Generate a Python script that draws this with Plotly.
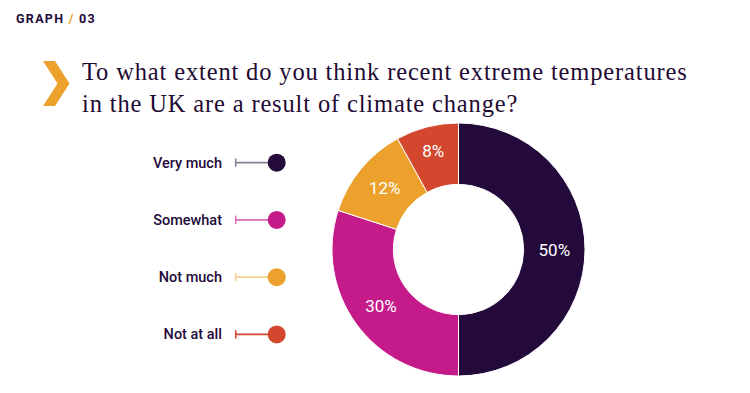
import plotly.graph_objects as go

categories = ["Very much", "Somewhat", "Not much", "Not at all"]
values = [50, 30, 12, 8]
colors = ["#230a3a", "#c51b8a", "#eba12b", "#d4472f"]
line_colors = ["#8a7d98", "#d86fb4", "#f5cf8c", "#d4472f"]

W, H = 750, 393
OFF = 8  # page body margin
DARK = "#230a3a"


def px(x):
    return (x - OFF) / W


def py(y):
    return 1 - (y - OFF) / H


fig = go.Figure()

# Donut
fig.add_trace(go.Pie(
    labels=categories, values=values, hole=0.515, sort=False,
    direction="clockwise", rotation=0,
    marker=dict(colors=colors, line=dict(color="white", width=1)),
    texttemplate="%{value}%", textposition="inside",
    insidetextorientation="horizontal",
    textfont=dict(family="Roboto", size=17, color="white", weight=400),
    domain=dict(x=[px(332), px(585)], y=[py(376), py(123)]),
    showlegend=False, hoverinfo="label+value",
))

# Legend-like lollipops
for cat, lc, c in zip(categories, line_colors, colors):
    fig.add_trace(go.Scatter(
        x=[0, 1], y=[cat, cat], mode="lines",
        line=dict(color=lc, width=1.6), showlegend=False, hoverinfo="skip",
    ))
    fig.add_trace(go.Scatter(
        x=[0], y=[cat], mode="markers",
        marker=dict(symbol="line-ns", size=6, line=dict(color=lc, width=1.6)),
        showlegend=False, hoverinfo="skip",
    ))
    fig.add_trace(go.Scatter(
        x=[1], y=[cat], mode="markers",
        marker=dict(size=18, color=c), showlegend=False, hoverinfo="skip",
    ))

x0px, x1px = 223, 300
ppu = 41.0
fig.update_layout(
    width=W, height=H, margin=dict(l=0, r=0, t=0, b=0),
    paper_bgcolor="white", plot_bgcolor="white",
    xaxis=dict(domain=[px(x0px), px(x1px)],
               range=[-(235.7 - x0px) / ppu, 1 + (x1px - 276.7) / ppu],
               visible=False, fixedrange=True),
    yaxis=dict(domain=[py(363), py(134)], type="category",
               categoryorder="array", categoryarray=categories,
               range=[3.5, -0.5], autorange=False,
               showgrid=False, zeroline=False,
               showline=False, ticks="",
               tickfont=dict(family="Roboto", size=14.5, color=DARK, weight=500),
               fixedrange=True),
    annotations=[
        dict(text="<span style='letter-spacing:1.3px'>GRAPH <span style='color:#eba12b'>/</span> 03</span>",
             x=px(14), y=py(19), xref="paper", yref="paper",
             xanchor="left", yanchor="middle", showarrow=False,
             font=dict(family="Roboto", size=12.5, color=DARK, weight=700)),
        dict(text="<span style='letter-spacing:0.85px'>To what extent do you think recent extreme temperatures<br>in the UK are a result of climate change?</span>",
             x=px(80), y=py(87.5), xref="paper", yref="paper",
             xanchor="left", yanchor="middle", align="left", showarrow=False,
             font=dict(family="Liberation Serif", size=24.5, color="#1f0a33")),
    ],
    shapes=[
        dict(type="path", xref="paper", yref="paper",
             path=("M {} {} L {} {} L {} {} L {} {} L {} {} L {} {} Z".format(
                 px(43), py(61), px(55), py(61), px(69.5), py(83.5),
                 px(55), py(106), px(43), py(106), px(57.5), py(83.5))),
             fillcolor="#eba12b", line=dict(width=0)),
    ],
)

fig.write_html("out.html")
